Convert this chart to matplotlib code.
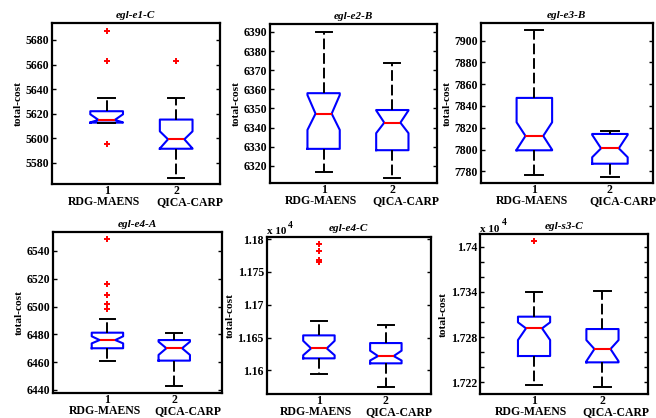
import matplotlib
matplotlib.use('Agg')
import matplotlib.pyplot as plt
import matplotlib.transforms as mtransforms
from matplotlib.ticker import FixedLocator, FuncFormatter

titles = ['egl-e1-C', 'egl-e2-B', 'egl-e3-B', 'egl-e4-A', 'egl-e4-C', 'egl-s3-C']
groups = ['RDG-MAENS', 'QICA-CARP']
group_ids = ['1', '2']

whishi = [[5633.0, 5633.0], [6390.0, 6374.0], [7909.8, 7817.4],
          [6490.8, 6481.0], [11674.6, 11669.5], [17340.3, 17341.2]]
q3 = [[5621.9, 5615.1], [6358.0, 6349.2], [7847.4, 7814.3],
      [6481.2, 6475.9], [11653.3, 11641.6], [17307.1, 17290.7]]
cihi = [[5619.4, 5605.5], [6357.0, 6349.0], [7825.0, 7813.5],
        [6478.6, 6474.7], [11645.0, 11630.0], [17299.6, 17276.0]]
med = [[5614.8, 5599.0], [6347.3, 6342.6], [7812.5, 7801.1],
       [6475.9, 6470.0], [11633.5, 11621.8], [17291.6, 17264.2]]
cilo = [[5612.8, 5591.5], [6338.8, 6337.1], [7799.8, 7792.9],
        [6473.5, 6465.2], [11623.0, 11615.0], [17276.1, 17248.0]]
q1 = [[5612.6, 5591.3], [6328.9, 6328.2], [7799.3, 7787.0],
      [6470.0, 6461.1], [11618.3, 11610.7], [17254.9, 17246.5]]
whislo = [[5612.6, 5567.8], [6317.0, 6313.9], [7777.0, 7774.8],
          [6461.1, 6442.9], [11593.9, 11574.6], [17216.0, 17213.8]]
fliers = [[[5687.3, 5663.2, 5595.0], [5663.2]],
          [[], []],
          [[], []],
          [[6548.4, 6516.3, 6508.2, 6502.1, 6498.0], []],
          [[11792.4, 11781.7, 11768.5, 11765.0], []],
          [[17407.1], []]]

ylims = [(5562.3, 5693.6), (6310.9, 6394.0), (7769.0, 7915.9),
         (6437.6, 6553.4), (11564.0, 11803.6), (17204.5, 17416.4)]
tick_vals = [[5580, 5600, 5620, 5640, 5660, 5680],
             [6320, 6330, 6340, 6350, 6360, 6370, 6380, 6390],
             [7780, 7800, 7820, 7840, 7860, 7880, 7900],
             [6440, 6460, 6480, 6500, 6520, 6540],
             [11600, 11650, 11700, 11750, 11800],
             [17220, 17240, 17260, 17280, 17300, 17320, 17340, 17360, 17380, 17400]]
label_vals = [[5580, 5600, 5620, 5640, 5660, 5680],
              [6320, 6330, 6340, 6350, 6360, 6370, 6380, 6390],
              [7780, 7800, 7820, 7840, 7860, 7880, 7900],
              [6440, 6460, 6480, 6500, 6520, 6540],
              [11600, 11650, 11700, 11750, 11800],
              [17220, 17280, 17340, 17400]]
scale_exp = [0, 0, 0, 0, 4, 4]

positions_px = [(51.7, 23.3, 220.0, 184.3), (270.0, 24.3, 437.0, 183.3),
                (480.7, 23.3, 653.0, 183.3), (53.3, 232.3, 221.7, 393.3),
                (266.7, 236.7, 430.7, 394.0), (480.0, 234.3, 648.3, 394.0)]
xlims = [(0.21, 2.63), (0.22, 2.65), (0.29, 2.57), (0.19, 2.71), (0.22, 2.67), (0.21, 2.67)]
name_offsets_pt = [-2.0, 9.5]

plt.rcParams['font.family'] = ['Liberation Serif', 'DejaVu Serif']
plt.rcParams['font.weight'] = 'bold'

W, H = 656, 418
fig = plt.figure(figsize=(W / 100, H / 100), dpi=100)

for i in range(6):
    l, t, r, b = positions_px[i]
    ax = fig.add_axes([l / W, 1 - b / H, (r - l) / W, (b - t) / H])
    stats = []
    for g in range(2):
        stats.append(dict(med=med[i][g], q1=q1[i][g], q3=q3[i][g],
                          whislo=whislo[i][g], whishi=whishi[i][g],
                          cilo=cilo[i][g], cihi=cihi[i][g],
                          fliers=fliers[i][g], label=group_ids[g]))
    ax.bxp(stats, positions=[1, 2], widths=0.47, shownotches=True,
           boxprops=dict(color='#0000ff', linewidth=1.5),
           medianprops=dict(color='#ff0000', linewidth=1.5),
           whiskerprops=dict(color='black', linewidth=1.4, linestyle=(0, (5.5, 2.0))),
           capprops=dict(color='black', linewidth=1.4),
           flierprops=dict(marker='+', markeredgecolor='#ff0000', markersize=5,
                           markeredgewidth=1.4, linestyle='none'))
    ax.set_xlim(*xlims[i])
    ax.set_ylim(*ylims[i])
    ax.yaxis.set_major_locator(FixedLocator(tick_vals[i]))
    sc = 10 ** scale_exp[i]
    labs = label_vals[i]
    ax.yaxis.set_major_formatter(FuncFormatter(
        lambda v, p, labs=labs, sc=sc: ('%g' % (v / sc)) if any(abs(v - x) < 1e-6 for x in labs) else ''))
    ax.tick_params(axis='y', direction='in', left=True, right=True, length=3,
                   width=1.0, labelsize=8.5, pad=2)
    ax.tick_params(axis='x', length=0, labelsize=8.5, pad=0.5)
    for lab in ax.get_xticklabels() + ax.get_yticklabels():
        lab.set_fontweight('bold')
    # group names below the numeric tick labels
    trans = mtransforms.blended_transform_factory(ax.transData, ax.transAxes)
    for g in range(2):
        ax.annotate(groups[g], xy=(g + 1, 0), xycoords=trans,
                    xytext=(name_offsets_pt[g], -12.8), textcoords='offset points',
                    ha='center', va='center', fontsize=8.5, fontweight='bold',
                    annotation_clip=False)
    for s in ax.spines.values():
        s.set_linewidth(1.6)
    ax.set_ylabel('total-cost', fontsize=8.2, fontweight='bold', labelpad=2)
    ax.set_title(titles[i], fontsize=8, fontweight='bold', style='italic', pad=4)
    if scale_exp[i]:
        ax.text(0.0, 1.005, 'x 10', transform=ax.transAxes, ha='left', va='bottom',
                fontsize=8, fontweight='bold')
        ax.text(0.13, 1.045, str(scale_exp[i]), transform=ax.transAxes, ha='left',
                va='bottom', fontsize=7, fontweight='bold')

fig.savefig('out.png', dpi=100)
